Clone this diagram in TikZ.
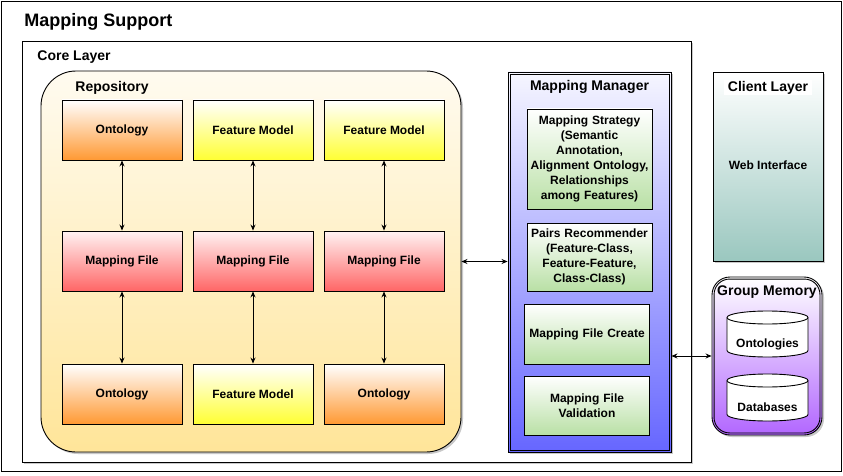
\documentclass[tikz,border=0pt]{standalone}
\usepackage{fontspec}
\setmainfont{Liberation Sans}
\usepackage{xcolor}
\usepackage{tikz}
\usetikzlibrary{arrows.meta, positioning, shadows}
\definecolor{ontolaranja}{RGB}{255,153,51}
\definecolor{featamarelo}{RGB}{255,255,51}
\definecolor{mapvermelho}{RGB}{255,102,102}
\definecolor{repotopo}{RGB}{255,251,240}
\definecolor{repobase}{RGB}{255,229,153}
\definecolor{gerazul}{RGB}{102,102,255}
\definecolor{gerverde}{RGB}{185,224,165}
\definecolor{clienteverde}{RGB}{154,199,191}
\definecolor{grupoxo}{RGB}{178,102,255}

\begin{document}
\begin{tikzpicture}[x=1pt, y=-1pt, line width=0.9pt,
    caixa/.style={draw, minimum width=120pt, minimum height=60pt, align=center, font=\fontsize{12}{15}\selectfont\bfseries},
    caixaO/.style={caixa, top color=white, bottom color=ontolaranja},
    caixaF/.style={caixa, top color=white, bottom color=featamarelo},
    caixaM/.style={caixa, top color=mapvermelho!8, bottom color=mapvermelho},
    caixaG/.style={draw, top color=white, bottom color=gerverde, minimum width=125pt, text width=121pt, inner sep=2pt, align=center, font=\fontsize{12}{15}\selectfont\bfseries},
    banco/.style={minimum width=81pt, inner sep=0pt, outer sep=0pt},
    rotulo/.style={font=\fontsize{12}{15}\selectfont\bfseries},
    titulo/.style={anchor=west, inner sep=1pt, font=\fontsize{14}{17}\selectfont\bfseries},
    sombra/.style={drop shadow={shadow xshift=2pt, shadow yshift=-2pt, opacity=0.3, fill=black!70}},
    seta/.style={{Stealth[length=6pt, width=5pt]}-{Stealth[length=6pt, width=5pt]}, line width=0.8pt}
  ]
    \useasboundingbox (0,0) rectangle (843,476);

    % moldura externa e camada central
    \draw (1,1) rectangle (841,471);
    \node[titulo, font=\fontsize{18}{21}\selectfont\bfseries] (suporte) at (23,21.5) {Mapping Support};
    \draw[fill=white, sombra] (22,41) rectangle (691,462);
    \node[titulo] (nucleo) at (36,57.5) {Core Layer};

    % repositorio
    \node[draw, rounded corners=35pt, top color=repotopo, bottom color=repobase, minimum width=420pt, minimum height=381pt, sombra] (repo) at (251,261.5) {};
    \node[titulo] (repotit) at (74,87.5) {Repository};

    \node[caixaO] (t1) at (122,130) {Ontology};
    \node[caixaF] (t2) at (253,130) {Feature Model};
    \node[caixaF] (t3) at (384,130) {Feature Model};
    \node[caixaM] (m1) at (122,261) {Mapping File};
    \node[caixaM] (m2) at (253,261) {Mapping File};
    \node[caixaM] (m3) at (384,261) {Mapping File};
    \node[caixaO] (b1) at (122,394) {Ontology};
    \node[caixaF] (b2) at (253,394) {Feature Model};
    \node[caixaO] (b3) at (384,394) {Ontology};

    \foreach \c in {1,2,3} {
      \draw[seta] (t\c) -- (m\c);
      \draw[seta] (m\c) -- (b\c);
    }

    % gerenciador de mapeamento
    \node[draw, top color=gerazul!6, bottom color=gerazul, minimum width=163pt, minimum height=380pt, sombra] (ger) at (589.5,262) {};
    \draw ([shift={(2.5,2.5)}]ger.north west) rectangle ([shift={(-2.5,-2.5)}]ger.south east);
    \node[titulo, anchor=center] (gertit) at (589.5,86.5) {Mapping Manager};

    \node[caixaG, minimum height=100pt] (estr) at (589.5,159) {Mapping Strategy\\(Semantic\\Annotation,\\Alignment Ontology,\\Relationships\\among Features)};
    \node[caixaG, minimum height=68pt] (pares) at (589.5,257) {Pairs Recommender\\(Feature-Class,\\Feature-Feature,\\Class-Class)};
    \node[caixaG, minimum width=124pt, minimum height=60pt] (criar) at (587,334) {Mapping File Create};
    \node[caixaG, minimum width=124pt, minimum height=59pt] (valid) at (587,405.5) {Mapping File\\Validation};

    % camada cliente
    \node[draw, top color=white, bottom color=clienteverde, minimum width=110pt, minimum height=189pt, sombra] (cliente) at (768,166.5) {};
    \node[titulo, anchor=center, fill=white, inner xsep=4pt] (clitit) at (768,87.5) {Client Layer};
    \node[rotulo] (web) at (768,165) {Web Interface};

    % memoria do grupo
    \node[draw, rounded corners=18pt, top color=white, bottom color=grupoxo, minimum width=110pt, minimum height=158pt, sombra] (grupo) at (767,356) {};
    \draw[rounded corners=15.5pt] ([shift={(2.5,2.5)}]grupo.north west) rectangle ([shift={(-2.5,-2.5)}]grupo.south east);
    \node[titulo, anchor=center] (grutit) at (767,292) {Group Memory};

    \node[banco, minimum height=46pt] (ontos) at (767.5,334) {};
    \node[banco, minimum height=47pt] (bases) at (767.5,397.5) {};
    \foreach \n in {ontos,bases} {
      \draw[fill=white] ([yshift=-6.5pt]\n.north west) -- ([yshift=6.5pt]\n.south west)
        arc[start angle=180, end angle=360, x radius=40.5pt, y radius=6.5pt]
        -- ([yshift=-6.5pt]\n.north east)
        arc[start angle=0, end angle=180, x radius=40.5pt, y radius=6.5pt] -- cycle;
      \draw ([yshift=-6.5pt]\n.north west) arc[start angle=180, end angle=360, x radius=40.5pt, y radius=6.5pt];
    }
    \node[rotulo] (ontostxt) at ([yshift=-10pt]ontos.center) {Ontologies};
    \node[rotulo] (basestxt) at ([yshift=-10pt]bases.center) {Databases};

    % ligacoes entre blocos
    \draw[seta] (repo.east) -- (repo.east -| ger.west);
    \draw[seta] (grupo.west -| ger.east) -- (grupo.west);
  \end{tikzpicture}
\end{document}
